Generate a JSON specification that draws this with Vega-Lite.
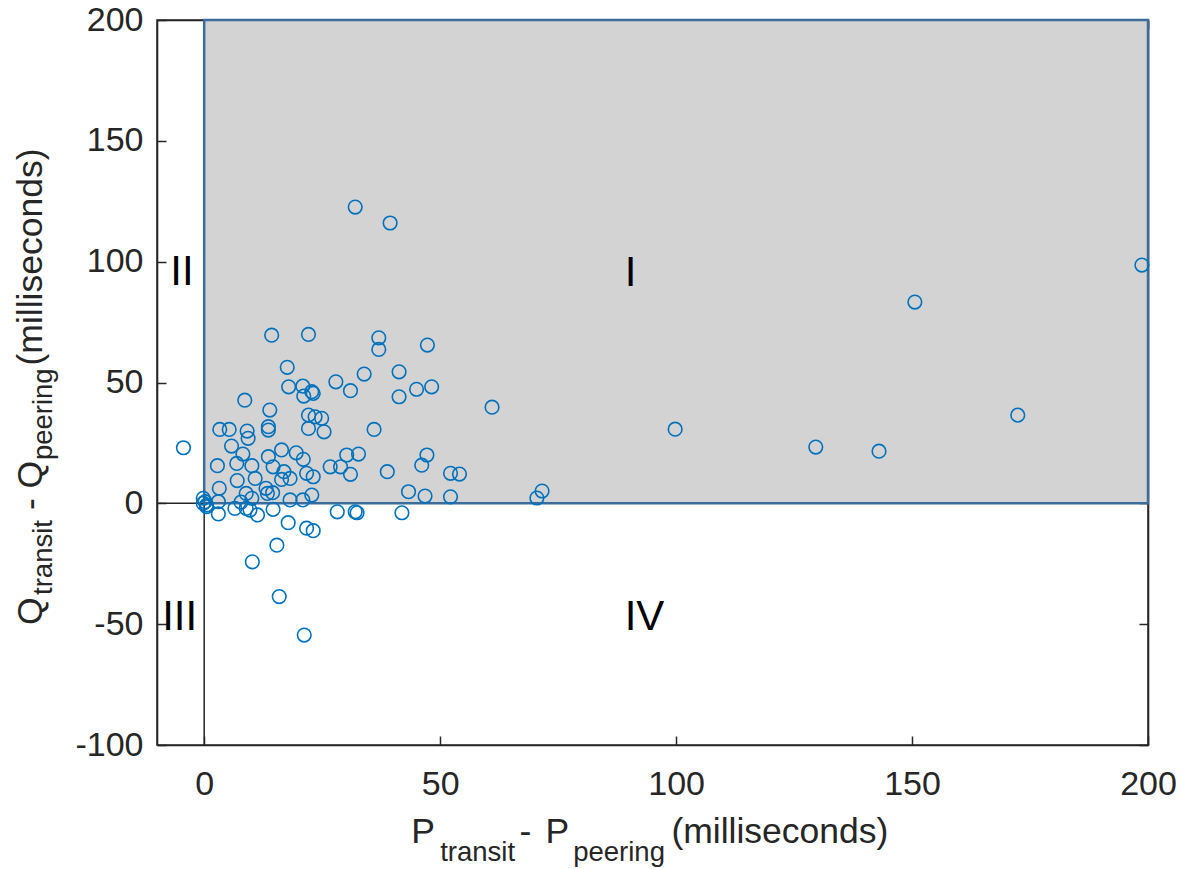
{
  "$schema": "https://vega.github.io/schema/vega-lite/v6.json",
  "width": 991,
  "height": 725,
  "autosize": {"type": "none"},
  "padding": {"left": 157, "top": 20, "right": 34, "bottom": 124},
  "background": "white",
  "data": {"values": [{}]},
  "config": {
    "view": {"stroke": "#262626", "strokeWidth": 1.5},
    "axis": {
      "grid": false,
      "labelFont": "Liberation Sans",
      "labelFontSize": 34,
      "labelColor": "#262626",
      "domainColor": "#262626",
      "domainWidth": 1.6,
      "tickColor": "#262626",
      "tickWidth": 1.5,
      "tickSize": -9,
      "labelFlush": false,
      "labelOverlap": false,
      "labelExpr": "replace(datum.label, '\u2212', '-')",
      "title": null
    },
    "text": {"font": "Liberation Sans"}
  },
  "datasets": {
    "pts": [
      {"dp": -4.4, "dq": 23.0}, {"dp": -0.2, "dq": 2.1}, {"dp": 0.2, "dq": 0.7}, {"dp": 0.5, "dq": -0.7},
      {"dp": -0.2, "dq": 0.0}, {"dp": 0.5, "dq": -1.4}, {"dp": 2.8, "dq": 15.6}, {"dp": 3.2, "dq": 6.2},
      {"dp": 3.0, "dq": 0.7}, {"dp": 3.0, "dq": -4.4}, {"dp": 3.3, "dq": 30.6}, {"dp": 5.3, "dq": 30.6},
      {"dp": 5.8, "dq": 23.7}, {"dp": 6.9, "dq": 16.5}, {"dp": 7.0, "dq": 9.4}, {"dp": 6.5, "dq": -2.1},
      {"dp": 7.8, "dq": 0.5}, {"dp": 8.2, "dq": 20.4}, {"dp": 8.6, "dq": 42.7}, {"dp": 9.1, "dq": 29.9},
      {"dp": 9.3, "dq": 26.9}, {"dp": 8.9, "dq": 4.1}, {"dp": 10.1, "dq": 2.1}, {"dp": 8.9, "dq": -2.1},
      {"dp": 9.7, "dq": -2.8}, {"dp": 10.1, "dq": 15.6}, {"dp": 10.8, "dq": 10.3}, {"dp": 11.3, "dq": -4.8},
      {"dp": 10.2, "dq": -24.2}, {"dp": 13.1, "dq": 6.2}, {"dp": 13.4, "dq": 4.1}, {"dp": 13.6, "dq": 19.3},
      {"dp": 13.6, "dq": 31.7}, {"dp": 13.6, "dq": 30.3}, {"dp": 13.9, "dq": 38.6}, {"dp": 14.3, "dq": 69.6},
      {"dp": 14.6, "dq": 15.1}, {"dp": 14.5, "dq": 4.4}, {"dp": 14.6, "dq": -2.5}, {"dp": 15.4, "dq": -17.3},
      {"dp": 15.9, "dq": -38.6}, {"dp": 16.4, "dq": 22.1}, {"dp": 16.4, "dq": 9.9}, {"dp": 16.9, "dq": 13.1},
      {"dp": 17.6, "dq": 56.3}, {"dp": 17.9, "dq": 48.2}, {"dp": 17.8, "dq": -8.0}, {"dp": 18.2, "dq": 10.3},
      {"dp": 18.2, "dq": 1.4}, {"dp": 19.5, "dq": 20.9}, {"dp": 20.9, "dq": 48.5}, {"dp": 21.0, "dq": 18.2},
      {"dp": 20.9, "dq": 1.4}, {"dp": 21.1, "dq": 44.4}, {"dp": 21.2, "dq": -54.5}, {"dp": 21.7, "dq": 12.4},
      {"dp": 21.7, "dq": -10.3}, {"dp": 22.1, "dq": 69.9}, {"dp": 22.1, "dq": 31.0}, {"dp": 22.1, "dq": 36.5},
      {"dp": 22.8, "dq": 46.2}, {"dp": 23.1, "dq": 45.5}, {"dp": 22.8, "dq": 3.4}, {"dp": 23.1, "dq": 11.0},
      {"dp": 23.1, "dq": -11.3}, {"dp": 23.5, "dq": 35.8}, {"dp": 24.9, "dq": 35.2}, {"dp": 25.4, "dq": 29.6},
      {"dp": 26.7, "dq": 15.1}, {"dp": 27.9, "dq": 50.3}, {"dp": 28.2, "dq": -3.5}, {"dp": 28.9, "dq": 15.1},
      {"dp": 30.2, "dq": 20.0}, {"dp": 31.0, "dq": 12.0}, {"dp": 31.0, "dq": 46.6}, {"dp": 32.0, "dq": 122.6},
      {"dp": 32.7, "dq": 20.4}, {"dp": 32.0, "dq": -3.5}, {"dp": 32.4, "dq": -3.9}, {"dp": 33.9, "dq": 53.5},
      {"dp": 36.0, "dq": 30.6}, {"dp": 37.0, "dq": 68.5}, {"dp": 37.0, "dq": 63.7}, {"dp": 38.8, "dq": 13.1},
      {"dp": 39.4, "dq": 116.0}, {"dp": 41.3, "dq": 54.4}, {"dp": 41.3, "dq": 44.1}, {"dp": 41.9, "dq": -3.9},
      {"dp": 43.3, "dq": 4.8}, {"dp": 45.0, "dq": 47.2}, {"dp": 46.1, "dq": 15.8}, {"dp": 46.8, "dq": 3.0},
      {"dp": 47.3, "dq": 65.5}, {"dp": 47.2, "dq": 20.0}, {"dp": 48.2, "dq": 48.2}, {"dp": 52.2, "dq": 12.4},
      {"dp": 54.1, "dq": 12.1}, {"dp": 52.2, "dq": 2.7}, {"dp": 61.0, "dq": 39.8}, {"dp": 70.5, "dq": 2.2},
      {"dp": 71.6, "dq": 5.1}, {"dp": 99.8, "dq": 30.7}, {"dp": 129.6, "dq": 23.3}, {"dp": 143.0, "dq": 21.6},
      {"dp": 150.6, "dq": 83.3}, {"dp": 172.4, "dq": 36.5}, {"dp": 198.7, "dq": 98.6}
    ]
  },
  "resolve": {"axis": {"x": "independent", "y": "independent"}},
  "layer": [
    {
      "mark": {"type": "rule", "color": "#262626", "strokeWidth": 1.5},
      "encoding": {
        "x": {"datum": 0, "type": "quantitative", "scale": {"domain": [-10, 200], "nice": false, "zero": false},
          "axis": {"orient": "top", "labels": false, "values": [0, 50, 100, 150, 200], "domain": true}}
      }
    },
    {
      "mark": {"type": "rule", "color": "#262626", "strokeWidth": 1.5},
      "encoding": {
        "y": {"datum": 0, "type": "quantitative", "scale": {"domain": [-100, 200], "nice": false, "zero": false},
          "axis": {"orient": "right", "labels": false, "values": [-100, -50, 0, 50, 100, 150, 200], "domain": true}}
      }
    },
    {
      "mark": {"type": "rect", "fill": "#d3d3d3", "stroke": "#3b6c9c", "strokeWidth": 2.5},
      "encoding": {
        "x": {"datum": 0, "type": "quantitative", "axis": null},
        "x2": {"datum": 200},
        "y": {"datum": 0, "type": "quantitative", "axis": null},
        "y2": {"datum": 200}
      }
    },
    {
      "data": {"name": "pts"},
      "mark": {"type": "point", "shape": "circle", "filled": false, "stroke": "#0072BD", "strokeWidth": 1.6, "size": 185, "opacity": 1},
      "encoding": {
        "x": {"field": "dp", "type": "quantitative", "scale": {"domain": [-10, 200], "nice": false, "zero": false},
          "axis": {"orient": "bottom", "values": [0, 50, 100, 150, 200], "labelPadding": 31}},
        "y": {"field": "dq", "type": "quantitative", "scale": {"domain": [-100, 200], "nice": false, "zero": false},
          "axis": {"orient": "left", "values": [-100, -50, 0, 50, 100, 150, 200], "labelPadding": 23}}
      }
    },
    {"mark": {"type": "text", "text": "II", "fontSize": 42, "align": "left", "baseline": "alphabetic", "color": "black"},
      "encoding": {"x": {"datum": -7.2, "type": "quantitative", "axis": null}, "y": {"datum": 90.3, "type": "quantitative", "axis": null}}},
    {"mark": {"type": "text", "text": "I", "fontSize": 42, "align": "left", "baseline": "alphabetic", "color": "black"},
      "encoding": {"x": {"datum": 89.1, "type": "quantitative", "axis": null}, "y": {"datum": 89.9, "type": "quantitative", "axis": null}}},
    {"mark": {"type": "text", "text": "III", "fontSize": 42, "align": "left", "baseline": "alphabetic", "color": "black"},
      "encoding": {"x": {"datum": -8.9, "type": "quantitative", "axis": null}, "y": {"datum": -52.4, "type": "quantitative", "axis": null}}},
    {"mark": {"type": "text", "text": "IV", "fontSize": 42, "align": "left", "baseline": "alphabetic", "color": "black"},
      "encoding": {"x": {"datum": 89.1, "type": "quantitative", "axis": null}, "y": {"datum": -52.4, "type": "quantitative", "axis": null}}},
    {"mark": {"type": "text", "text": "P", "fontSize": 35.5, "align": "left", "baseline": "alphabetic", "color": "#262626"},
      "encoding": {"x": {"datum": 43.9, "type": "quantitative", "axis": null}, "y": {"datum": -140.5, "type": "quantitative", "axis": null}}},
    {"mark": {"type": "text", "text": "transit", "fontSize": 27.5, "align": "left", "baseline": "alphabetic", "color": "#262626"},
      "encoding": {"x": {"datum": 50.0, "type": "quantitative", "axis": null}, "y": {"datum": -147.9, "type": "quantitative", "axis": null}}},
    {"mark": {"type": "text", "text": "-", "fontSize": 35.5, "align": "left", "baseline": "alphabetic", "color": "#262626"},
      "encoding": {"x": {"datum": 66.8, "type": "quantitative", "axis": null}, "y": {"datum": -140.5, "type": "quantitative", "axis": null}}},
    {"mark": {"type": "text", "text": "P", "fontSize": 35.5, "align": "left", "baseline": "alphabetic", "color": "#262626"},
      "encoding": {"x": {"datum": 72.3, "type": "quantitative", "axis": null}, "y": {"datum": -140.5, "type": "quantitative", "axis": null}}},
    {"mark": {"type": "text", "text": "peering", "fontSize": 27.5, "align": "left", "baseline": "alphabetic", "color": "#262626"},
      "encoding": {"x": {"datum": 78.2, "type": "quantitative", "axis": null}, "y": {"datum": -147.9, "type": "quantitative", "axis": null}}},
    {"mark": {"type": "text", "text": "(milliseconds)", "fontSize": 35.5, "align": "left", "baseline": "alphabetic", "color": "#262626"},
      "encoding": {"x": {"datum": 99.0, "type": "quantitative", "axis": null}, "y": {"datum": -140.5, "type": "quantitative", "axis": null}}},
    {"mark": {"type": "text", "text": "Q", "fontSize": 35.5, "angle": 270, "align": "left", "baseline": "alphabetic", "color": "#262626"},
      "encoding": {"x": {"datum": -34.4, "type": "quantitative", "axis": null}, "y": {"datum": -50.35, "type": "quantitative", "axis": null}}},
    {"mark": {"type": "text", "text": "transit", "fontSize": 27.5, "angle": 270, "align": "left", "baseline": "alphabetic", "color": "#262626"},
      "encoding": {"x": {"datum": -32.3, "type": "quantitative", "axis": null}, "y": {"datum": -37.9, "type": "quantitative", "axis": null}}},
    {"mark": {"type": "text", "text": "-", "fontSize": 35.5, "angle": 270, "align": "left", "baseline": "alphabetic", "color": "#262626"},
      "encoding": {"x": {"datum": -34.4, "type": "quantitative", "axis": null}, "y": {"datum": -2.77, "type": "quantitative", "axis": null}}},
    {"mark": {"type": "text", "text": "Q", "fontSize": 35.5, "angle": 270, "align": "left", "baseline": "alphabetic", "color": "#262626"},
      "encoding": {"x": {"datum": -34.4, "type": "quantitative", "axis": null}, "y": {"datum": 6.17, "type": "quantitative", "axis": null}}},
    {"mark": {"type": "text", "text": "peering", "fontSize": 27.5, "angle": 270, "align": "left", "baseline": "alphabetic", "color": "#262626"},
      "encoding": {"x": {"datum": -32.3, "type": "quantitative", "axis": null}, "y": {"datum": 17.9, "type": "quantitative", "axis": null}}},
    {"mark": {"type": "text", "text": "(milliseconds)", "fontSize": 35.5, "angle": 270, "align": "left", "baseline": "alphabetic", "color": "#262626"},
      "encoding": {"x": {"datum": -34.4, "type": "quantitative", "axis": null}, "y": {"datum": 57.05, "type": "quantitative", "axis": null}}}
  ]
}
